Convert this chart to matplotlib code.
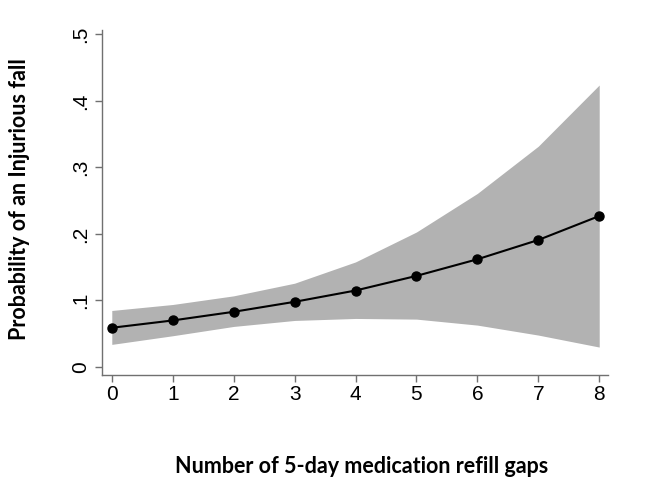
import numpy as np
import matplotlib.pyplot as plt

# Number of refill gaps and predicted probability with 95% CI
gaps = [0, 1, 2, 3, 4, 5, 6, 7, 8]
prob = [0.059, 0.070, 0.083, 0.098, 0.115, 0.137, 0.162, 0.191, 0.227]
ci_upper = [0.085, 0.094, 0.107, 0.126, 0.158, 0.203, 0.261, 0.332, 0.424]
ci_lower = [0.034, 0.047, 0.061, 0.070, 0.073, 0.072, 0.063, 0.048, 0.030]
yticks = [0, 0.1, 0.2, 0.3, 0.4, 0.5]
ytick_labels = ['0', '.1', '.2', '.3', '.4', '.5']

fig = plt.figure(figsize=(6.5, 4.97), dpi=100)
ax = fig.add_axes([0.157, 0.2455, 0.778, 0.6945])

ax.fill_between(gaps, ci_lower, ci_upper, color='#b2b2b2', lw=0)
ax.plot(gaps, prob, color='black', lw=1.5, marker='o', ms=6.5)

ax.set_xlim(-0.16, 8.14)
ax.set_ylim(-0.012, 0.507)
ax.set_xticks(gaps)
ax.set_yticks(yticks)
ax.set_yticklabels(ytick_labels, rotation=90, va='center')

for side in ['top', 'right']:
    ax.spines[side].set_visible(False)
for side in ['left', 'bottom']:
    ax.spines[side].set_color('#707070')
    ax.spines[side].set_linewidth(1)

ax.tick_params(axis='both', direction='out', length=5, width=1, color='#707070',
               labelsize=15, labelcolor='black')
ax.tick_params(axis='x', pad=2)
for lab in ax.get_xticklabels() + ax.get_yticklabels():
    lab.set_family('Liberation Sans')

ax.set_xlabel('Number of 5-day medication refill gaps', fontsize=15.5,
              fontweight='bold', family='Lato')
ax.set_ylabel('Probability of an Injurious fall', fontsize=15.5,
              fontweight='bold', family='Lato')
ax.xaxis.set_label_coords(0.513, -0.235)
ax.yaxis.set_label_coords(-0.142, 0.51)

fig.savefig('out.png', dpi=100)
